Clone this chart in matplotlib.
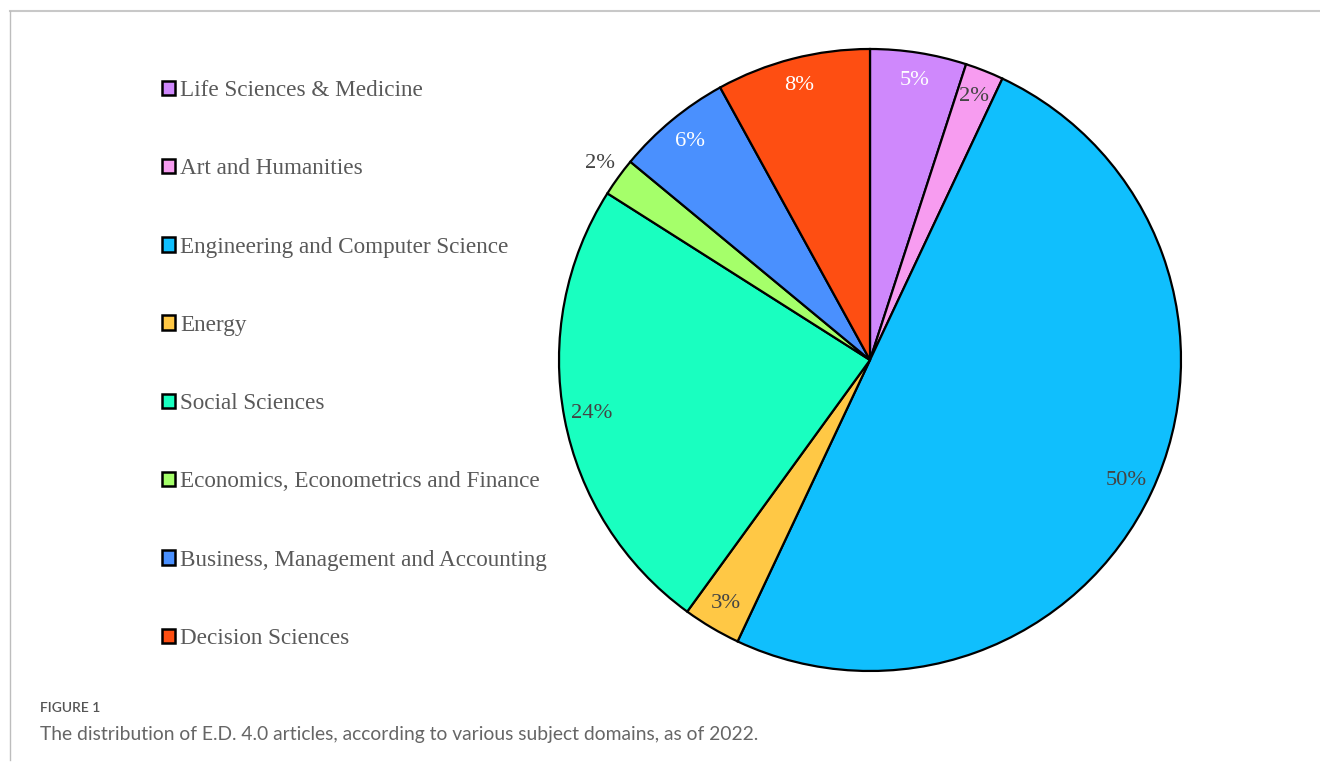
import matplotlib
matplotlib.use("Agg")
import matplotlib.pyplot as plt
from matplotlib.lines import Line2D

categories = [
    "Life Sciences & Medicine",
    "Art and Humanities",
    "Engineering and Computer Science",
    "Energy",
    "Social Sciences",
    "Economics, Econometrics and Finance",
    "Business, Management and Accounting",
    "Decision Sciences",
]
shares = [5, 2, 50, 3, 24, 2, 6, 8]
colors = ["#CF88FC", "#F79CF0", "#10BFFD", "#FFC845",
          "#19FFC0", "#A5FF6A", "#4A90FE", "#FE4E12"]
label_colors = ["white", "#444444", "#444444", "#444444",
                "#444444", "#444444", "white", "white"]

W, H = 1320, 765
fig = plt.figure(figsize=(W / 100, H / 100), dpi=100)

# pie axes, placed in pixel terms
cx, cy, r = 870, 360, 311
ax = fig.add_axes([(cx - r) / W, (H - cy - r) / H, 2 * r / W, 2 * r / H])
wedges, texts, autotexts = ax.pie(
    shares, colors=colors, startangle=90, counterclock=False,
    autopct="%.0f%%", pctdistance=0.91, radius=1.0,
    wedgeprops=dict(edgecolor="black", linewidth=1.6),
    textprops=dict(family="Liberation Serif", fontsize=16.2),
)
for t, c in zip(autotexts, label_colors):
    t.set_color(c)
# small economics slice gets its label just outside the rim
x, y = autotexts[5].get_position()
autotexts[5].set_position((x * 1.18, y * 1.18))
ax.set_xlim(-1.0, 1.0)
ax.set_ylim(-1.0, 1.0)
ax.set_aspect("equal")
ax.axis("off")

leg = fig.legend(
    wedges, categories, loc="upper left",
    bbox_to_anchor=(162 / W, 1 - 80 / H), frameon=False,
    prop=dict(family="Liberation Serif", size=16.7),
    handlelength=0.58, handleheight=0.58, handletextpad=0.2,
    labelspacing=2.47, borderpad=0, borderaxespad=0,
)
for t in leg.get_texts():
    t.set_color("#595959")
for h in leg.legend_handles:
    h.set_linewidth(1.8)

# caption
fig.text(40 / W, 1 - 712 / H, "FIGURE 1", family="Lato", fontsize=10,
         color="#555555", fontweight="semibold")
fig.text(40 / W, 1 - 740 / H,
         "The distribution of E.D. 4.0 articles, according to various subject domains, as of 2022.",
         family="Lato", fontsize=13.9, color="#666666")

# panel frame (top and left rules)
fig.add_artist(Line2D([10 / W, 1.0], [1 - 11 / H, 1 - 11 / H],
                      transform=fig.transFigure, color="#c8c8c8", lw=1.5))
fig.add_artist(Line2D([10 / W, 10 / W], [1 - 11 / H, 1 - 760 / H],
                      transform=fig.transFigure, color="#bdbdbd", lw=1.0))

fig.savefig("out.png", dpi=100)
